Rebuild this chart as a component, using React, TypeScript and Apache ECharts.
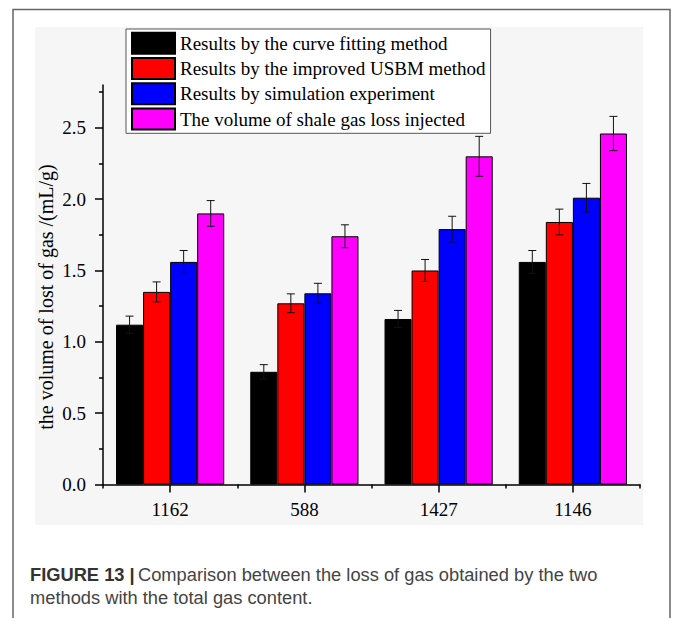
import React, { useEffect, useRef } from "react";
import * as echarts from "echarts";

const categories = ["1162", "588", "1427", "1146"];
const seriesNames = [
  "Results by the curve fitting method",
  "Results by the improved USBM method",
  "Results by simulation experiment",
  "The volume of shale gas loss injected",
];
const curveFitting = [1.12, 0.79, 1.16, 1.56];
const improvedUSBM = [1.35, 1.27, 1.5, 1.84];
const simulation = [1.56, 1.34, 1.79, 2.01];
const injected = [1.9, 1.74, 2.3, 2.46];
const curveFittingErr = [0.06, 0.05, 0.06, 0.08];
const improvedUSBMErr = [0.07, 0.066, 0.077, 0.09];
const simulationErr = [0.08, 0.07, 0.09, 0.1];
const injectedErr = [0.09, 0.08, 0.14, 0.12];
const majorTicks = [0, 0.5, 1.0, 1.5, 2.0, 2.5];
const minorTicks = [0.25, 0.75, 1.25, 1.75, 2.25, 2.75];
const colors = ["#000000", "#ff0000", "#0000ff", "#ff00ff"];

const CAT_GAP = 0.194;

export default function App() {
  const ref = useRef<HTMLDivElement>(null);
  useEffect(() => {
    if (!ref.current) return;
    const chart = echarts.init(ref.current, undefined, { renderer: "svg" });
    const values = [curveFitting, improvedUSBM, simulation, injected];
    const errs = [curveFittingErr, improvedUSBMErr, simulationErr, injectedErr];
    const errData: number[][] = [];
    values.forEach((arr, s) =>
      arr.forEach((v, c) => errData.push([c, s, v - errs[s][c], v + errs[s][c]]))
    );
    const serif = "'Liberation Serif', 'Times New Roman', serif";
    const sans = "'Liberation Sans', Arial, sans-serif";
    chart.setOption({
      animation: false,
      color: colors,
      graphic: [
        {
          type: "rect",
          z: -10,
          silent: true,
          shape: { x: 35, y: 27, width: 608, height: 498 },
          style: { fill: "#f6f6f6" },
        },
        {
          type: "polyline",
          silent: true,
          shape: { points: [[13, 618], [13, 9.5], [670, 9.5], [670, 618]] },
          style: { stroke: "#666", lineWidth: 1.5, fill: null },
        },
        {
          type: "text",
          x: 46,
          y: 297,
          rotation: Math.PI / 2,
          style: {
            text: "the volume of lost of gas /(mL/g)",
            font: `20px ${serif}`,
            fill: "#000",
            align: "center",
            verticalAlign: "middle",
          },
        },
        {
          type: "text",
          left: 30,
          top: 563,
          style: {
            text: "{b|FIGURE 13 |} {n|Comparison between the loss of gas obtained by the two}\n{n|methods with the total gas content.}",
            lineHeight: 23,
            rich: {
              b: { fontFamily: sans, fontWeight: "bold", fontSize: 18.3, fill: "#333", lineHeight: 23 },
              n: { fontFamily: sans, fontSize: 18.3, fill: "#444", lineHeight: 23 },
            },
          },
        },
      ],
      legend: {
        orient: "vertical",
        left: 126,
        top: 29,
        data: seriesNames,
        itemWidth: 43,
        itemHeight: 21,
        itemGap: 2.3,
        padding: [2.7, 5, 2.7, 5],
        backgroundColor: "#fff",
        borderColor: "#555",
        borderWidth: 1,
        icon: "rect",
        textStyle: { fontFamily: serif, fontSize: 19, color: "#000", lineHeight: 21, padding: [0, 0, 0, 0] },
      },
      grid: { left: 103, right: 33, top: 85, bottom: 133.5, containLabel: false },
      xAxis: [
        {
          type: "category",
          data: categories,
          position: "bottom",
          axisLine: { show: true, lineStyle: { color: "#000", width: 1.5 } },
          axisTick: { show: true, alignWithLabel: true, length: 8, lineStyle: { color: "#000", width: 1.5 } },
          axisLabel: { fontFamily: serif, fontSize: 19, color: "#000", margin: 15 },
          splitLine: { show: false },
        },
        {
          type: "category",
          data: categories,
          position: "bottom",
          axisLine: { show: false },
          axisTick: { show: true, alignWithLabel: false, length: 4, lineStyle: { color: "#000", width: 1.5 } },
          axisLabel: { show: false },
          splitLine: { show: false },
        },
      ],
      yAxis: [
        {
          type: "value",
          position: "left",
          min: 0,
          max: 2.8,
          axisLine: { show: true, lineStyle: { color: "#000", width: 1.5 } },
          axisTick: { show: true, length: 8, customValues: majorTicks, lineStyle: { color: "#000", width: 1.5 } },
          axisLabel: {
            customValues: majorTicks,
            fontFamily: serif,
            fontSize: 19,
            color: "#000",
            margin: 17,
            formatter: (v: number) => v.toFixed(1),
          },
          splitLine: { show: false },
        },
        {
          type: "value",
          position: "left",
          min: 0,
          max: 2.8,
          axisLine: { show: false },
          axisTick: { show: true, length: 4, customValues: minorTicks, lineStyle: { color: "#000", width: 1.5 } },
          axisLabel: { show: false },
          splitLine: { show: false },
        },
      ],
      series: [
        ...seriesNames.map((name, i) => ({
          name,
          type: "bar",
          data: values[i],
          barGap: "0%",
          barCategoryGap: CAT_GAP * 100 + "%",
          itemStyle: { color: colors[i], borderColor: "#000", borderWidth: 1 },
          xAxisIndex: 0,
          yAxisIndex: 0,
        })),
        {
          type: "custom",
          name: "err",
          xAxisIndex: 0,
          yAxisIndex: 0,
          z: 10,
          data: errData,
          encode: { x: 0, y: [2, 3] },
          renderItem: (params: any, api: any) => {
            const c = api.value(0);
            const s = api.value(1);
            const lo = api.coord([c, api.value(2)]);
            const hi = api.coord([c, api.value(3)]);
            const bandW = api.size([1, 0])[0];
            const barW = (bandW * (1 - CAT_GAP)) / 4;
            const x = lo[0] + (s - 1.5) * barW;
            const hw = 4;
            const style = { stroke: "#111", lineWidth: 1 };
            return {
              type: "group",
              children: [
                { type: "line", shape: { x1: x, y1: lo[1], x2: x, y2: hi[1] }, style },
                { type: "line", shape: { x1: x - hw, y1: lo[1], x2: x + hw, y2: lo[1] }, style },
                { type: "line", shape: { x1: x - hw, y1: hi[1], x2: x + hw, y2: hi[1] }, style },
              ],
            };
          },
        },
      ],
    });
    return () => chart.dispose();
  }, []);
  return (
    <div
      ref={ref}
      style={{ position: "fixed", left: 0, top: 0, width: 673, height: 618, background: "#fff" }}
    />
  );
}
